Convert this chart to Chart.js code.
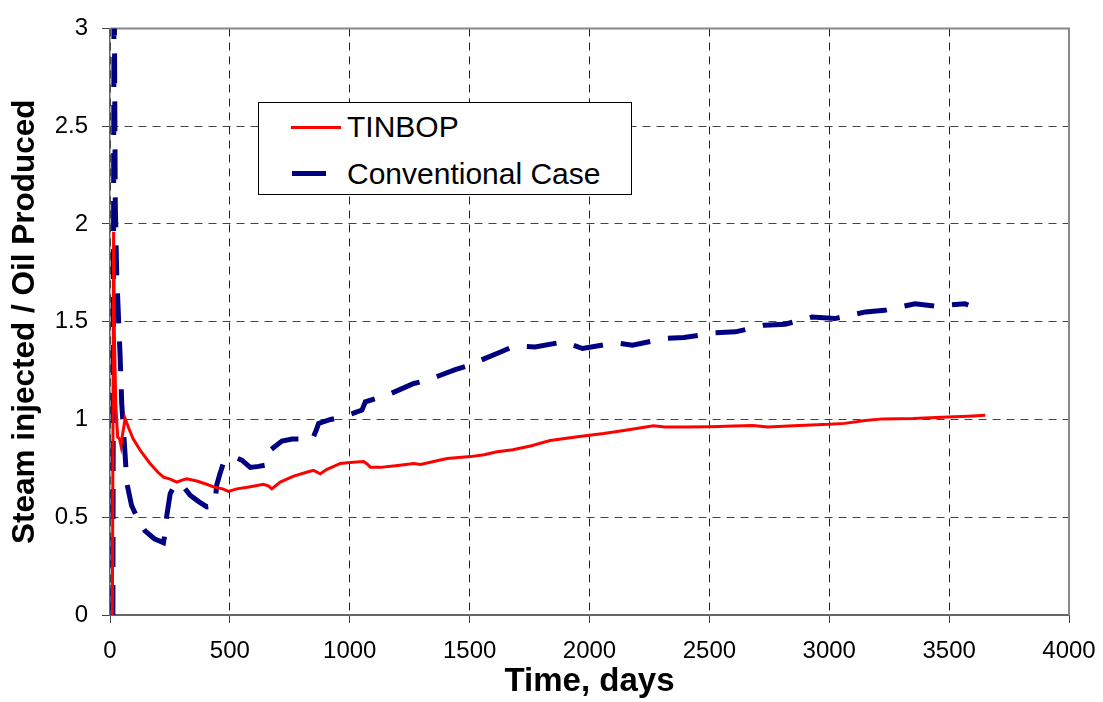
<!DOCTYPE html>
<html>
<head>
<meta charset="utf-8">
<script src="https://cdn.jsdelivr.net/npm/chart.js@4/dist/chart.umd.min.js"></script>
<style>
  body { margin: 0; background: #fff; }
  #wrap { position: relative; width: 1103px; height: 702px; }
  #legend {
    position: absolute; left: 258px; top: 102px; width: 374px; height: 93px;
    box-sizing: border-box; border: 1.5px solid #000; background: #fff;
    font-family: "Liberation Sans", Arial, sans-serif; font-size: 30px; color: #000;
  }
  .row { position: absolute; left: 0; height: 30px; width: 100%; }
  .swatch { position: absolute; top: 50%; }
  .label { position: absolute; left: 88px; top: 0; line-height: 30px; white-space: nowrap; }
</style>
</head>
<body>
<div id="wrap">
  <canvas id="chart" width="1103" height="702"></canvas>
  <div id="legend"></div>
</div>
<script>
/* Tick labels */
var xTicks = [0, 500, 1000, 1500, 2000, 2500, 3000, 3500, 4000];
var yTicks = [0, 0.5, 1, 1.5, 2, 2.5, 3];

/* TINBOP series (day, ratio) */
var tinbopDays = [10, 15, 18, 24, 32, 40, 46, 52, 63, 80, 97, 130, 167, 200, 223, 251, 279, 300, 320, 362,
    400, 432, 470, 494, 529, 580, 640, 660, 675, 710, 766, 820, 849, 877, 905, 961, 1000, 1058, 1075, 1086,
    1128, 1200, 1267, 1295, 1350, 1406, 1504, 1560, 1615, 1680, 1754, 1836, 1950, 2059, 2150, 2267, 2314,
    2400, 2506, 2600, 2681, 2744, 2850, 2999, 3064, 3150, 3223, 3350, 3494, 3580, 3651];
var tinbopRatio = [0, 1.96, 1.45, 1.08, 0.91, 0.9, 0.865, 0.92, 1.005, 0.95, 0.9, 0.835, 0.775, 0.73, 0.705,
    0.695, 0.68, 0.69, 0.697, 0.685, 0.67, 0.655, 0.645, 0.632, 0.645, 0.655, 0.668, 0.66, 0.645, 0.68, 0.71,
    0.73, 0.74, 0.722, 0.745, 0.775, 0.78, 0.785, 0.77, 0.755, 0.755, 0.765, 0.775, 0.77, 0.785, 0.8, 0.81,
    0.82, 0.835, 0.845, 0.864, 0.892, 0.912, 0.928, 0.945, 0.968, 0.962, 0.962, 0.963, 0.966, 0.969, 0.961,
    0.968, 0.975, 0.98, 0.995, 1.003, 1.005, 1.012, 1.017, 1.022];

/* Conventional case series (day, ratio) */
var convDays = [12, 17, 22, 28, 42, 49, 63, 70, 90, 120, 146, 185, 223, 230, 237, 251, 270, 292, 310, 334,
    370, 404, 431, 440, 445, 458, 473, 515, 550, 585, 620, 647, 668, 717, 760, 808, 843, 863, 870, 920, 968,
    1010, 1051, 1065, 1155, 1267, 1320, 1378, 1440, 1500, 1560, 1629, 1685, 1773, 1892, 1971, 2107, 2179,
    2314, 2394, 2521, 2609, 2729, 2816, 2928, 3024, 3151, 3231, 3358, 3446, 3566, 3580];
var convRatio = [0, 3.4, 2.1, 1.74, 1.33, 1.08, 0.82, 0.675, 0.56, 0.48, 0.43, 0.39, 0.37, 0.42, 0.51, 0.62,
    0.665, 0.673, 0.65, 0.613, 0.58, 0.553, 0.557, 0.6, 0.664, 0.72, 0.778, 0.809, 0.792, 0.755, 0.76, 0.766,
    0.843, 0.89, 0.9, 0.9, 0.894, 0.954, 0.98, 1.0, 1.013, 1.03, 1.048, 1.09, 1.124, 1.184, 1.2, 1.226, 1.255,
    1.277, 1.31, 1.345, 1.375, 1.371, 1.397, 1.363, 1.392, 1.38, 1.414, 1.419, 1.443, 1.448, 1.482, 1.487,
    1.524, 1.516, 1.55, 1.558, 1.592, 1.579, 1.592, 1.585];

function toPoints(days, vals) {
    return days.map(function (d, i) { return { x: d, y: vals[i] }; });
}

/* Solid frame on the top and right of the plot area */
var frame = {
    id: 'frame',
    beforeDatasetsDraw: function (chart) {
        var a = chart.chartArea, ctx = chart.ctx;
        ctx.save();
        ctx.strokeStyle = '#888';
        ctx.lineWidth = 2;
        ctx.beginPath();
        ctx.moveTo(a.left, a.top);
        ctx.lineTo(a.right, a.top);
        ctx.lineTo(a.right, a.bottom);
        ctx.stroke();
        ctx.restore();
    }
};

var font = "'Liberation Sans', Arial, sans-serif";

var chart = new Chart(document.getElementById('chart'), {
    type: 'line',
    data: {
        datasets: [{
            label: 'TINBOP',
            data: toPoints(tinbopDays, tinbopRatio),
            borderColor: '#ff0000',
            borderWidth: 3,
            pointRadius: 0,
            tension: 0
        }, {
            label: 'Conventional Case',
            data: toPoints(convDays, convRatio),
            borderColor: '#000080',
            borderWidth: 5,
            borderDash: [30, 18],
            borderCapStyle: 'butt',
            pointRadius: 0,
            tension: 0
        }]
    },
    options: {
        responsive: false,
        animation: false,
        layout: { padding: { top: 25, right: 34, left: 0, bottom: 0 } },
        plugins: { legend: { display: false }, tooltip: { enabled: false } },
        scales: {
            x: {
                type: 'linear',
                min: 0, max: 4000,
                afterBuildTicks: function (s) { s.ticks = xTicks.map(function (v) { return { value: v }; }); },
                afterFit: function (s) { s.height = 87; s.paddingLeft = 0; s.paddingRight = 0; },
                ticks: {
                    callback: function (v) { return String(v); },
                    color: '#000', padding: 14, maxRotation: 0,
                    font: { family: font, size: 24 }
                },
                grid: { color: '#222', tickColor: '#444', tickLength: 8, lineWidth: 1 },
                border: { color: '#666', width: 2, dash: [8, 6] },
                title: {
                    display: true, text: 'Time, days', color: '#000',
                    padding: { top: 0, bottom: 0 },
                    font: { family: font, size: 33, weight: 'bold' }
                }
            },
            y: {
                min: 0, max: 3,
                afterBuildTicks: function (s) { s.ticks = yTicks.map(function (v) { return { value: v }; }); },
                afterFit: function (s) { s.width = 110; },
                ticks: {
                    callback: function (v) { return String(v); },
                    color: '#000', padding: 14,
                    font: { family: font, size: 24 }
                },
                grid: { color: '#444', tickColor: '#444', tickLength: 8, lineWidth: 1 },
                border: { color: '#666', width: 1.5, dash: [8, 6] },
                title: {
                    display: true, text: 'Steam injected / Oil Produced', color: '#000',
                    padding: { top: 6, bottom: 0 },
                    font: { family: font, size: 31.5, weight: 'bold' }
                }
            }
        }
    },
    plugins: [frame]
});

/* HTML legend built from the datasets */
var legend = document.getElementById('legend');
var rowCentres = [24, 70.5];
chart.data.datasets.forEach(function (ds, i) {
    var row = document.createElement('div');
    row.className = 'row';
    row.style.top = (rowCentres[i] - 15) + 'px';
    var sw = document.createElement('div');
    sw.className = 'swatch';
    var len = ds.borderDash ? 34 : 50;
    sw.style.left = (i === 0 ? 32 : 33) + 'px';
    sw.style.width = len + 'px';
    sw.style.height = ds.borderWidth + 'px';
    sw.style.marginTop = (-ds.borderWidth / 2) + 'px';
    sw.style.background = ds.borderColor;
    var lb = document.createElement('div');
    lb.className = 'label';
    lb.textContent = ds.label;
    row.appendChild(sw);
    row.appendChild(lb);
    legend.appendChild(row);
});
</script>
</body>
</html>
